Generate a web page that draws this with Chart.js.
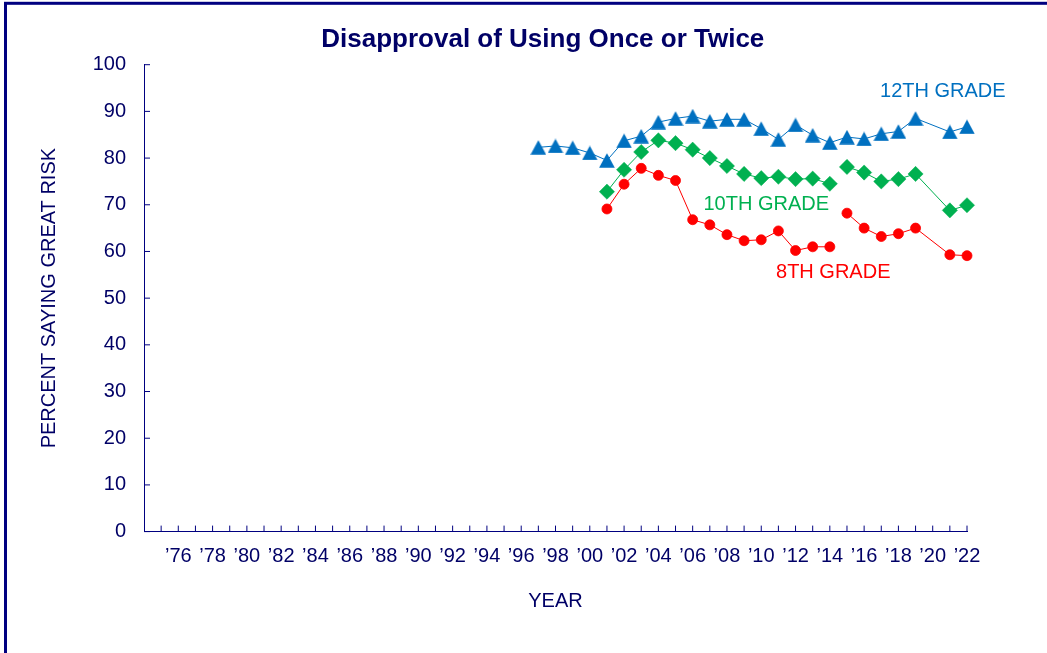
<!DOCTYPE html>
<html>
<head>
<meta charset="utf-8">
<script src="https://cdn.jsdelivr.net/npm/chart.js@4/dist/chart.umd.min.js"></script>
<style>
  html, body { margin: 0; padding: 0; background: #ffffff; }
  #wrap { width: 1047px; height: 653px; }
</style>
</head>
<body>
<div id="wrap"><canvas id="chart" width="1047" height="653"></canvas></div>
<script>
// Survey years shown (no data point for 2020)
const years = [1997, 1998, 1999, 2000, 2001, 2002, 2003, 2004, 2005, 2006, 2007, 2008, 2009,
               2010, 2011, 2012, 2013, 2014, 2015, 2016, 2017, 2018, 2019, 2021, 2022];

// Percent disapproving of using once or twice, by grade
const grade12 = [82.3, 82.6, 82.2, 81.1, 79.5, 83.7, 84.7, 87.7, 88.5, 89.0, 87.9, 88.3, 88.3,
                 86.3, 84.0, 87.1, 84.9, 83.3, 84.5, 84.1, 85.2, 85.7, 88.5, 85.6, 86.7];
const grade10 = [null, null, null, null, 72.8, 77.5, 81.3, 83.8, 83.2, 81.8, 80.0, 78.3, 76.6,
                 75.7, 76.0, 75.5, 75.6, 74.5, 78.1, 76.9, 75.0, 75.5, 76.6, 68.8, 69.9];
const grade8  = [null, null, null, null, 69.1, 74.4, 77.8, 76.3, 75.2, 66.8, 65.7, 63.6, 62.3,
                 62.5, 64.4, 60.2, 61.0, 61.0, 68.2, 65.0, 63.2, 63.8, 65.0, 59.3, 59.1];

// Axis ranges and labels
const yearMin = 1974;
const yearMax = 2022;
const yTicks = [0, 10, 20, 30, 40, 50, 60, 70, 80, 90, 100];
const chartTitle = 'Disapproval of Using Once or Twice';
const xTitle = 'YEAR';
const yTitle = 'PERCENT SAYING GREAT RISK';
const seriesNames = ['12TH GRADE', '10TH GRADE', '8TH GRADE'];

const FONT = '"Liberation Sans", Arial, Helvetica, sans-serif';
const NAVY_TEXT = '#000066';
const NAVY_LINE = '#000080';
const BLUE = '#0070C0';
const GREEN = '#00B050';
const RED = '#FF0000';

// Triangle marker centred on its bounding box
function triangleMarker(color) {
  const c = document.createElement('canvas');
  c.width = 16; c.height = 15;
  const g = c.getContext('2d');
  g.fillStyle = color;
  g.beginPath();
  g.moveTo(0.2, 14.8);
  g.lineTo(8, 0.2);
  g.lineTo(15.8, 14.8);
  g.closePath();
  g.fill();
  return c;
}

const toPoints = vals => years.map((x, i) => ({ x: x, y: vals[i] }));
// 8th and 10th grade lines are broken between 2014 and 2015
const breakAt2015 = color => ({
  borderColor: ctx => (ctx.p0.parsed.x === 2014 && ctx.p1.parsed.x === 2015) ? 'rgba(0,0,0,0)' : color
});

const decor = {
  id: 'decor',
  beforeDraw(chart) {
    const ctx = chart.ctx;
    ctx.save();
    ctx.fillStyle = '#ffffff';
    ctx.fillRect(0, 0, chart.width, chart.height);
    ctx.strokeStyle = NAVY_LINE;
    ctx.lineWidth = 3;
    ctx.strokeRect(5.5, 3.3, 1200, 800);
    ctx.restore();
  },
  afterDraw(chart) {
    const ctx = chart.ctx;
    const xs = chart.scales.x, ys = chart.scales.y;
    ctx.save();
    // inward tick marks
    ctx.strokeStyle = NAVY_LINE;
    ctx.lineWidth = 1;
    ctx.beginPath();
    for (let yr = yearMin + 1; yr <= yearMax; yr++) {
      const px = xs.getPixelForValue(yr);
      ctx.moveTo(px, ys.bottom);
      ctx.lineTo(px, ys.bottom - 6);
    }
    yTicks.forEach(v => {
      const py = ys.getPixelForValue(v);
      ctx.moveTo(xs.left, py);
      ctx.lineTo(xs.left + 6, py);
    });
    ctx.stroke();

    // chart title
    ctx.fillStyle = NAVY_TEXT;
    ctx.font = 'bold 26px ' + FONT;
    ctx.textAlign = 'center';
    ctx.textBaseline = 'middle';
    ctx.fillText(chartTitle, 542.8, 40.3);

    // series labels placed in data coordinates
    ctx.font = '20px ' + FONT;
    const tags = [
      { text: seriesNames[0], color: BLUE,  x: 2020.59, y: 94.2 },
      { text: seriesNames[1], color: GREEN, x: 2010.29, y: 70.0 },
      { text: seriesNames[2], color: RED,   x: 2014.20, y: 55.6 }
    ];
    tags.forEach(t => {
      ctx.fillStyle = t.color;
      ctx.fillText(t.text, xs.getPixelForValue(t.x), ys.getPixelForValue(t.y));
    });
    ctx.restore();
  }
};

new Chart(document.getElementById('chart'), {
  type: 'line',
  data: {
    datasets: [
      {
        label: seriesNames[0],
        data: toPoints(grade12),
        borderColor: BLUE,
        backgroundColor: BLUE,
        borderWidth: 1,
        pointStyle: triangleMarker(BLUE),
        pointRadius: 7.5,
        clip: false
      },
      {
        label: seriesNames[1],
        data: toPoints(grade10),
        borderColor: GREEN,
        backgroundColor: GREEN,
        borderWidth: 1,
        pointStyle: 'rectRot',
        pointRadius: 7.6,
        pointBorderWidth: 0.5,
        pointBorderColor: GREEN,
        segment: breakAt2015(GREEN),
        clip: false
      },
      {
        label: seriesNames[2],
        data: toPoints(grade8),
        borderColor: RED,
        backgroundColor: RED,
        borderWidth: 1,
        pointStyle: 'circle',
        pointRadius: 5,
        pointBorderWidth: 0.8,
        pointBorderColor: RED,
        segment: breakAt2015(RED),
        clip: false
      }
    ]
  },
  options: {
    responsive: false,
    animation: false,
    devicePixelRatio: 1,
    layout: { padding: { left: 10, right: 80, top: 64.7, bottom: 0 } },
    plugins: {
      legend: { display: false },
      title: { display: false },
      tooltip: { enabled: false }
    },
    scales: {
      x: {
        type: 'linear',
        min: yearMin,
        max: yearMax,
        grid: { display: false, drawTicks: false },
        border: { display: true, color: NAVY_LINE, width: 1 },
        ticks: {
          stepSize: 1,
          autoSkip: false,
          maxRotation: 0,
          minRotation: 0,
          padding: 13,
          color: NAVY_TEXT,
          font: { family: FONT, size: 20 },
          callback: v => (v % 2 === 0 && v > yearMin) ? '\u2019' + String(v).slice(2) : ''
        },
        title: {
          display: true,
          text: xTitle,
          color: NAVY_TEXT,
          font: { family: FONT, size: 20 },
          padding: { top: 0, bottom: 40 }
        },
        afterFit: s => { s.height = 121.4; }
      },
      y: {
        min: 0,
        max: 100,
        grid: { display: false, drawTicks: false },
        border: { display: true, color: NAVY_LINE, width: 1 },
        ticks: {
          stepSize: 10,
          padding: 18,
          color: NAVY_TEXT,
          font: { family: FONT, size: 20 }
        },
        title: {
          display: true,
          text: yTitle,
          color: NAVY_TEXT,
          font: { family: FONT, size: 20 },
          padding: { top: 27, bottom: 0 }
        },
        afterFit: s => { s.width = 134; }
      }
    }
  },
  plugins: [decor]
});
</script>
</body>
</html>
